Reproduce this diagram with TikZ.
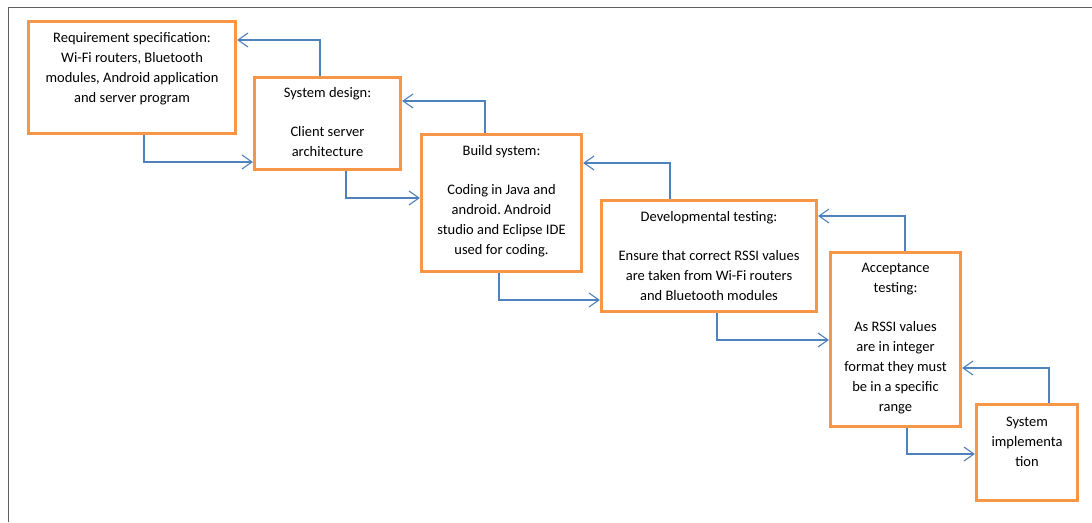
\documentclass[tikz,border=0pt]{standalone}
\usepackage{fontspec}
\setmainfont{Carlito}
\usetikzlibrary{arrows.meta}
\definecolor{boxorange}{RGB}{247,150,70}
\definecolor{flowblue}{RGB}{79,129,189}
\definecolor{framegray}{RGB}{95,95,95}
\frenchspacing

\begin{document}
\begin{tikzpicture}[x=1pt,y=-1pt,
  stagebox/.style={draw=boxorange, line width=3.2pt, fill=white, inner sep=0pt},
  stagetext/.style={anchor=north, align=center, inner sep=0pt,
    font=\fontsize{14.5}{20}\selectfont, text=black},
  flow/.style={draw=flowblue, line width=1.1pt,
    -{Straight Barb[length=10pt,width=14pt]}},
]
\useasboundingbox (0,0) rectangle (1092,522);

% page frame (left and top edges only)
\draw[framegray, line width=1.6pt] (8.5,522) -- (8.5,7.5) -- (1092,7.5);

% waterfall stages
\node[stagebox, minimum width=207pt, minimum height=112pt] (b1) at (132,77.5) {};
\node[stagebox, minimum width=146pt, minimum height=92pt]  (b2) at (327.5,123.5) {};
\node[stagebox, minimum width=160pt, minimum height=137pt] (b3) at (501.5,203) {};
\node[stagebox, minimum width=215pt, minimum height=111pt] (b4) at (709,256) {};
\node[stagebox, minimum width=130pt, minimum height=174pt] (b5) at (895.5,339.5) {};
\node[stagebox, minimum width=101pt, minimum height=96pt]  (b6) at (1027,452.5) {};

% stage descriptions
\node[stagetext] (t1) at ([yshift=-12pt]b1.north)
  {Requirement specification:\\Wi-Fi routers, Bluetooth\\modules, Android application\\and server program};
\node[stagetext] (t2) at ([yshift=-11pt]b2.north)
  {System design:\\[19pt]Client server\\architecture};
\node[stagetext] (t3) at ([yshift=-12pt]b3.north)
  {Build system:\\[19pt]Coding in Java and\\android. Android\\studio and Eclipse IDE\\used for coding.};
\node[stagetext] (t4) at ([yshift=-12pt]b4.north)
  {Developmental testing:\\[19pt]Ensure that correct RSSI values\\are taken from Wi-Fi routers\\and Bluetooth modules};
\node[stagetext] (t5) at ([yshift=-12pt]b5.north)
  {Acceptance\\testing:\\[19pt]As RSSI values\\are in integer\\format they must\\be in a specific\\range};
\node[stagetext] (t6) at ([yshift=-14pt]b6.north)
  {System\\implementa\\tion};

% forward flow: down from a stage, then right into the next one
\draw[flow] (144,0 |- b1.south) -- (144,162) -- (b2.west |- 0,162);
\draw[flow] (346,0 |- b2.south) -- (346,198) -- (b3.west |- 0,198);
\draw[flow] (499,0 |- b3.south) -- (499,300) -- (b4.west |- 0,300);
\draw[flow] (717,0 |- b4.south) -- (717,340) -- (b5.west |- 0,340);
\draw[flow] (907,0 |- b5.south) -- (907,454) -- (b6.west |- 0,454);

% feedback: up from a stage, then left into the previous one
\draw[flow] (320,0 |- b2.north) -- (320,40)  -- (b1.east |- 0,40);
\draw[flow] (485,0 |- b3.north) -- (485,101) -- (b2.east |- 0,101);
\draw[flow] (670,0 |- b4.north) -- (670,163) -- (b3.east |- 0,163);
\draw[flow] (905,0 |- b5.north) -- (905,216) -- (b4.east |- 0,216);
\draw[flow] (1049,0 |- b6.north) -- (1049,368) -- (b5.east |- 0,368);
\end{tikzpicture}
\end{document}
